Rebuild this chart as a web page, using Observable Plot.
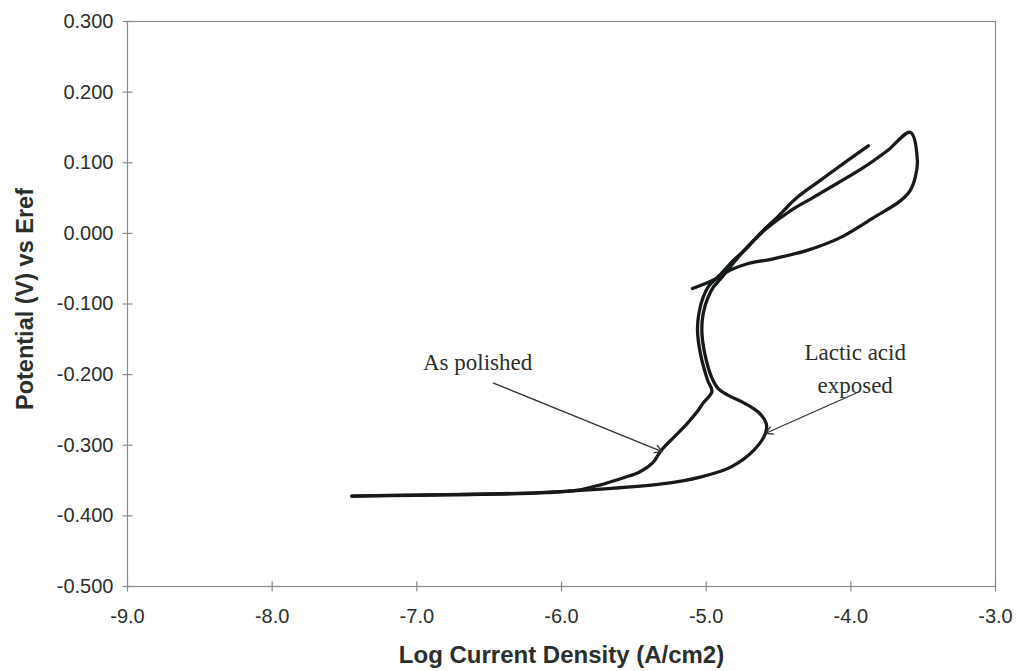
<!DOCTYPE html>
<html>
<head>
<meta charset="utf-8">
<script src="https://cdn.jsdelivr.net/npm/d3@7"></script>
<script src="https://cdn.jsdelivr.net/npm/@observablehq/plot@0.6"></script>
<style>
  html, body { margin: 0; padding: 0; background: #fff; }
  #chart svg { display: block; }
</style>
</head>
<body>
<div id="chart"></div>
<script>
// ---- Data ----
const xTicks = [-9, -8, -7, -6, -5, -4, -3];
const yTicks = [-0.5, -0.4, -0.3, -0.2, -0.1, 0.0, 0.1, 0.2, 0.3];
const xLabel = "Log Current Density (A/cm2)";
const yLabel = "Potential (V) vs Eref";

// As polished curve
const polishedX = [-7.45, -7.2, -6.8, -6.4, -6.1, -5.9, -5.73, -5.57, -5.46, -5.37, -5.31, -5.22, -5.13, -5.06, -5.02, -4.96,
  -4.99, -5.04, -5.06, -5.05, -5.02, -4.98, -4.91, -4.81,
  -4.715, -4.626, -4.508, -4.37, -4.211, -4.024, -3.879];
const polishedY = [-0.372, -0.371, -0.370, -0.369, -0.367, -0.364, -0.356, -0.346, -0.338, -0.325, -0.307, -0.288, -0.269, -0.252, -0.240, -0.224,
  -0.208, -0.170, -0.137, -0.113, -0.090, -0.074, -0.060, -0.038,
  -0.020, 0.000, 0.023, 0.051, 0.075, 0.103, 0.124];

// Lactic acid exposed curve
const lacticX = [-7.45, -7.0, -6.5, -6.15, -5.73, -5.32, -5.04, -4.83, -4.67, -4.59, -4.585, -4.64, -4.74, -4.85, -4.92,
  -4.96, -5.01, -5.03, -5.02, -4.99, -4.95, -4.89, -4.784,
  -4.695, -4.577, -4.418, -4.259, -4.093, -3.914, -3.748, -3.589,
  -3.54, -3.554, -3.589, -3.658, -3.845, -4.073, -4.301, -4.536, -4.715, -4.833, -4.95, -5.095];
const lacticY = [-0.372, -0.371, -0.369, -0.367, -0.362, -0.355, -0.345, -0.331, -0.307, -0.283, -0.269, -0.253, -0.240, -0.229, -0.219,
  -0.205, -0.170, -0.137, -0.113, -0.092, -0.076, -0.062, -0.035,
  -0.015, 0.008, 0.032, 0.051, 0.071, 0.093, 0.117, 0.143,
  0.103, 0.080, 0.061, 0.046, 0.022, -0.006, -0.024, -0.036, -0.043, -0.052, -0.066, -0.078];

// Annotations
const noteText = ["As polished", "Lactic acid\nexposed"];
const noteX = [-6.58, -3.97];
const noteY = [-0.179, -0.188];
const arrowX1 = [-6.47, -3.962];
const arrowY1 = [-0.212, -0.226];
const arrowX2 = [-5.305, -4.588];
const arrowY2 = [-0.309, -0.283];

// ---- Build tables ----
const polished = polishedX.map((x, i) => ({x, y: polishedY[i]}));
const lactic = lacticX.map((x, i) => ({x, y: lacticY[i]}));
const notes = noteText.map((t, i) => ({t, x: noteX[i], y: noteY[i]}));
const arrows = arrowX1.map((x1, i) => ({x1, y1: arrowY1[i], x2: arrowX2[i], y2: arrowY2[i]}));

const xMin = xTicks[0], yMin = yTicks[0];

// crossing tick marks as custom symbols
const vTick = {draw(ctx, size) { const r = Math.sqrt(size / Math.PI); ctx.moveTo(0, -r); ctx.lineTo(0, r); }};
const hTick = {draw(ctx, size) { const r = Math.sqrt(size / Math.PI); ctx.moveTo(-r, 0); ctx.lineTo(r, 0); }};

const axisColor = "#8a8a8a";
const textColor = "#2a2f2c";
const lineColor = "#161b18";

const chart = Plot.plot({
  width: 1017,
  height: 671,
  marginLeft: 127,
  marginRight: 22,
  marginTop: 21,
  marginBottom: 85,
  x: {domain: [xTicks[0], xTicks[xTicks.length - 1]]},
  y: {domain: [yTicks[0], yTicks[yTicks.length - 1]]},
  style: {fontFamily: "'Liberation Sans', Arial, sans-serif", background: "#fff", color: textColor},
  marks: [
    Plot.frame({stroke: axisColor, strokeWidth: 1.2}),
    Plot.axisX({ticks: xTicks, tickSize: 0, tickPadding: 22, tickFormat: d => d.toFixed(1), fontSize: 20, label: null, fill: textColor}),
    Plot.axisY({ticks: yTicks, tickSize: 0, tickPadding: 14, tickFormat: d => d.toFixed(3), fontSize: 20, label: null, fill: textColor}),
    Plot.dot(xTicks, {x: d => d, y: yMin, symbol: vTick, r: 5, stroke: axisColor, strokeWidth: 1.2, fill: "none"}),
    Plot.dot(yTicks, {x: xMin, y: d => d, symbol: hTick, r: 5, stroke: axisColor, strokeWidth: 1.2, fill: "none"}),
    Plot.text([xLabel], {frameAnchor: "bottom", textAnchor: "middle", dy: 76, text: d => d, fontSize: 24, fontWeight: "bold", fill: textColor}),
    Plot.text([yLabel], {frameAnchor: "left", textAnchor: "middle", rotate: -90, dx: -102, dy: -5, text: d => d, fontSize: 23.5, fontWeight: "bold", fill: textColor}),
    Plot.line(polished, {x: "x", y: "y", stroke: lineColor, strokeWidth: 3.3, curve: "catmull-rom"}),
    Plot.line(lactic, {x: "x", y: "y", stroke: lineColor, strokeWidth: 3.3, curve: "catmull-rom"}),
    Plot.arrow(arrows, {x1: "x1", y1: "y1", x2: "x2", y2: "y2", stroke: "#333", strokeWidth: 1.3, headLength: 9}),
    Plot.text(notes, {x: "x", y: "y", text: "t", fontSize: 23, lineHeight: 1.45, fontFamily: "'Liberation Serif', 'Times New Roman', serif", fill: textColor})
  ]
});
document.getElementById("chart").appendChild(chart);
</script>
</body>
</html>
